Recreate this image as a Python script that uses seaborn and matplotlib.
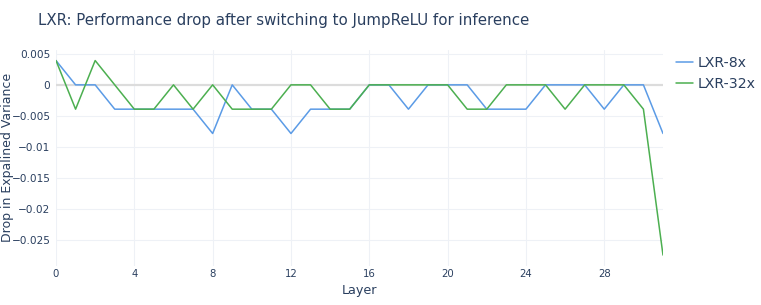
import numpy as np
import pandas as pd
import matplotlib
matplotlib.use("Agg")
import matplotlib.pyplot as plt
import seaborn as sns

q = 0.00390625
layers = list(range(32))
lxr_8x = [1, 0, 0, -1, -1, -1, -1, -1, -2, 0, -1, -1, -2, -1, -1, -1,
          0, 0, -1, 0, 0, 0, -1, -1, -1, 0, 0, 0, -1, 0, 0, -2]
lxr_32x = [1, -1, 1, 0, -1, -1, 0, -1, 0, -1, -1, -1, 0, 0, -1, -1,
           0, 0, 0, 0, 0, -1, -1, 0, 0, 0, -1, 0, 0, 0, -1, -7]
lxr_8x = [v * q for v in lxr_8x]
lxr_32x = [v * q for v in lxr_32x]
series_names = ["LXR-8x", "LXR-32x"]
colors = ["#5b9be6", "#4caf50"]
xticks = [0, 4, 8, 12, 16, 20, 24, 28]
yticks = [0.005, 0, -0.005, -0.01, -0.015, -0.02, -0.025]
ytick_labels = ["0.005", "0", "\u22120.005", "\u22120.01", "\u22120.015", "\u22120.02", "\u22120.025"]

df = pd.DataFrame({
    "Layer": layers * 2,
    "value": lxr_8x + lxr_32x,
    "series": [series_names[0]] * 32 + [series_names[1]] * 32,
})

sns.set_theme(style="white")
plt.rcParams["font.family"] = ["DejaVu Sans"]
text_color = "#2a3f5f"

fig = plt.figure(figsize=(7.61, 3.05), dpi=100)
ax = fig.add_axes([56 / 761, 1 - 266 / 305, (663 - 56) / 761, (266 - 50) / 305])

for y in yticks:
    if y != 0:
        ax.axhline(y, color="#eef1f6", lw=0.8, zorder=0)
for x in xticks:
    ax.axvline(x, color="#eef1f6", lw=0.8, zorder=0)
ax.axhline(0, color="#dcdcdc", lw=1.6, zorder=1)

sns.lineplot(data=df, x="Layer", y="value", hue="series", palette=colors,
             hue_order=series_names, ax=ax, lw=1.1, zorder=3, legend=True)

ax.set_xlim(0, 31)
ax.set_ylim(-0.0291, 0.0056)
ax.set_xticks(xticks)
ax.set_xticklabels([str(x) for x in xticks])
ax.set_yticks(yticks)
ax.set_yticklabels(ytick_labels)
ax.tick_params(axis="x", length=0, labelsize=7.3, colors=text_color, pad=2)
ax.tick_params(axis="y", length=0, labelsize=7.6, colors=text_color, pad=4)
for s in ax.spines.values():
    s.set_visible(False)

ax.set_xlabel("Layer", fontsize=9.2, color=text_color, labelpad=4)
ax.set_ylabel("")
fig.text(8 / 761, 1 - 157 / 305, "Drop in Expalined Variance", rotation=90,
         fontsize=9, color=text_color, va="center", ha="center")
fig.text(38 / 761, 1 - 20 / 305, "LXR: Performance drop after switching to JumpReLU for inference",
         fontsize=10.8, color=text_color, va="center", ha="left")

leg = ax.legend(loc="upper left", bbox_to_anchor=(1.012, 1.0), frameon=False,
                fontsize=10.2, handlelength=1.2, handletextpad=0.35, labelspacing=0.5,
                borderaxespad=0)
for t in leg.get_texts():
    t.set_color(text_color)

fig.savefig("out.png", dpi=100)
